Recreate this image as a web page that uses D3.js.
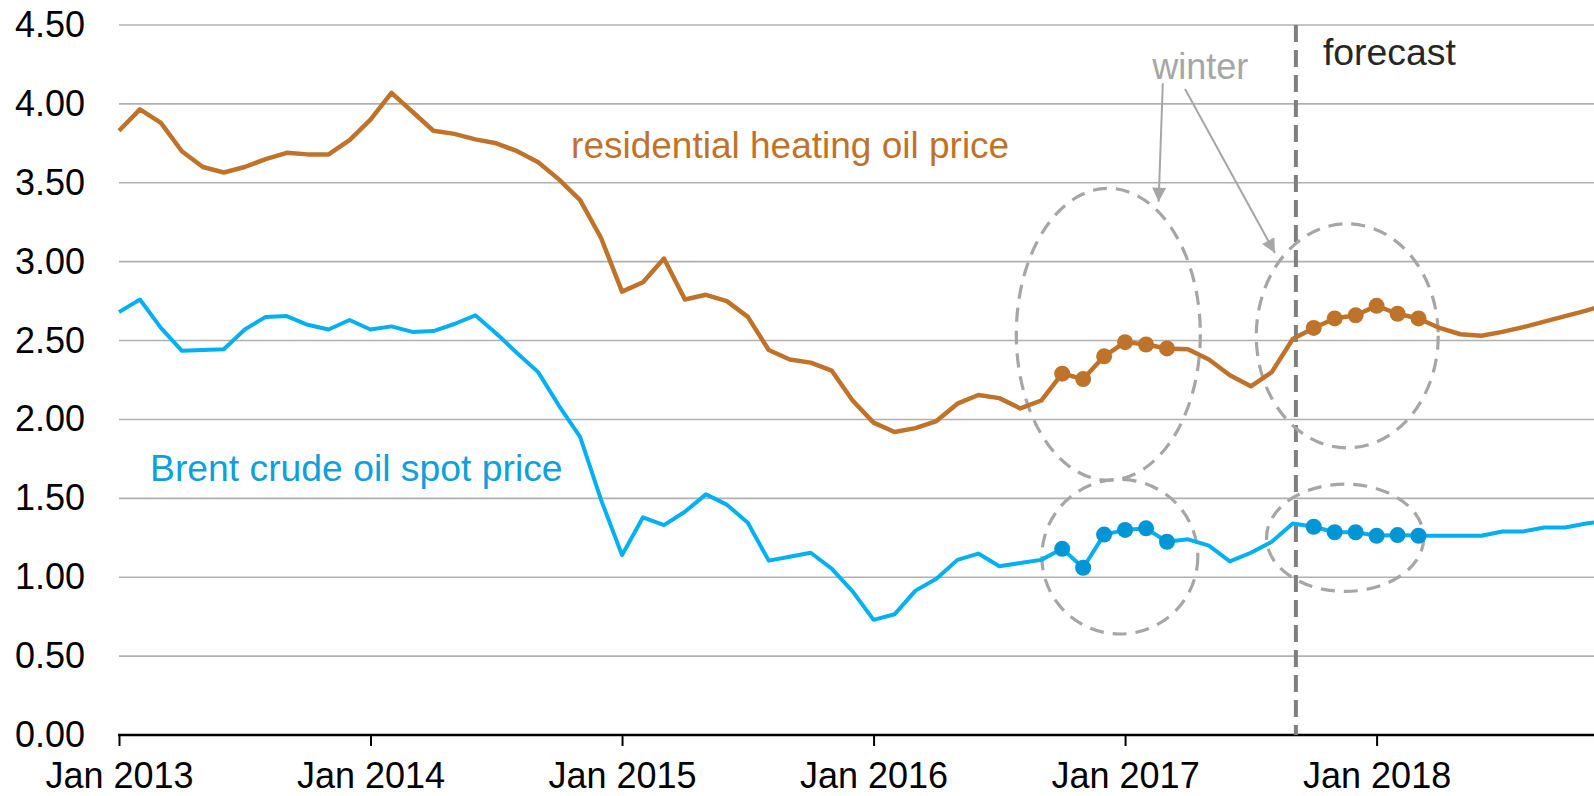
<!DOCTYPE html>
<html>
<head>
<meta charset="utf-8">
<script src="https://cdn.jsdelivr.net/npm/d3@7"></script>
<style>
  body { margin: 0; background: #fff; }
  text { font-family: "Liberation Sans", Arial, sans-serif; }
</style>
</head>
<body>
<script>
const width = 1594;
const height = 796;

// monthly values, Jan 2013 .. Dec 2018 (dollars per gallon)
const heatingOil = [
    3.83, 3.965, 3.88, 3.70, 3.60, 3.565, 3.60, 3.65, 3.69, 3.68, 3.68, 3.77,
    3.90, 4.07, 3.95, 3.83, 3.81, 3.775, 3.75, 3.70, 3.63, 3.52, 3.39, 3.15,
    2.81, 2.87, 3.02, 2.76, 2.79, 2.75, 2.65, 2.44, 2.38, 2.36, 2.31, 2.12,
    1.98, 1.92, 1.945, 1.99, 2.10, 2.155, 2.135, 2.07, 2.12, 2.29, 2.256, 2.40,
    2.49, 2.475, 2.45, 2.445, 2.38, 2.28, 2.21, 2.30, 2.51, 2.58, 2.64, 2.66,
    2.72, 2.67, 2.64, 2.58, 2.54, 2.53, 2.555, 2.585, 2.62, 2.655, 2.69, 2.73
];
const brent = [
    2.68, 2.76, 2.58, 2.435, 2.44, 2.445, 2.57, 2.65, 2.655, 2.60, 2.57, 2.63,
    2.57, 2.59, 2.555, 2.56, 2.605, 2.66, 2.545, 2.42, 2.30, 2.085, 1.89, 1.49,
    1.14, 1.38, 1.33, 1.415, 1.525, 1.46, 1.345, 1.105, 1.13, 1.155, 1.055, 0.91,
    0.73, 0.765, 0.915, 0.99, 1.11, 1.15, 1.07, 1.09, 1.11, 1.18, 1.06, 1.27,
    1.30, 1.31, 1.225, 1.24, 1.20, 1.10, 1.155, 1.225, 1.34, 1.32, 1.285, 1.285,
    1.263, 1.267, 1.263, 1.263, 1.263, 1.263, 1.29, 1.29, 1.315, 1.315, 1.34, 1.36
];
const yearLabels = ["Jan 2013", "Jan 2014", "Jan 2015", "Jan 2016", "Jan 2017", "Jan 2018"];
const yTicks = [0, 0.5, 1, 1.5, 2, 2.5, 3, 3.5, 4, 4.5];
// winter months (Oct-Mar), as month index from Jan 2013
const winterMonths = [45, 46, 47, 48, 49, 50, 57, 58, 59, 60, 61, 62];
const forecastStart = 56.15;

// annotation ellipses in data units: center month, center value, radius months, radius value
const ellipses = [
    { m: 47.2, v: 2.54, rm: 4.39, rv: 0.925 },
    { m: 58.6, v: 2.53, rm: 4.34, rv: 0.71 },
    { m: 47.75, v: 1.13, rm: 3.72, rv: 0.49 },
    { m: 58.5, v: 1.25, rm: 3.75, rv: 0.34 }
];
const arrows = [
    { m1: 49.8, v1: 4.13, m2: 49.6, v2: 3.38 },
    { m1: 50.86, v1: 4.094, m2: 55.15, v2: 3.055 }
];

const left = 119;
const monthW = 20.96;
const x = d3.scaleLinear().domain([0, 71]).range([left, left + 71 * monthW]);
const y = d3.scaleLinear().domain([0, 4.5]).range([735, 25]);

const svg = d3.select('body').append('svg')
    .attr('width', width)
    .attr('height', height);

// grid
svg.append("g")
    .selectAll("line")
    .data(yTicks.filter(d => d > 0))
    .join("line")
    .attr("x1", left)
    .attr("x2", width)
    .attr("y1", d => y(d))
    .attr("y2", d => y(d))
    .attr("stroke", "#b0b0b0")
    .attr("stroke-width", 1.6);

// y axis labels
const yAxis = svg.append("g")
    .attr("transform", `translate(${left},0)`)
    .call(d3.axisLeft(y).tickValues(yTicks).tickFormat(d3.format(".2f")).tickSize(0).tickPadding(34));
yAxis.select(".domain").remove();
yAxis.selectAll("text")
    .attr("font-size", "36px")
    .attr("fill", "#000")
    .style("font-family", '"Liberation Sans", Arial, sans-serif');

// x axis
const xAxis = svg.append("g")
    .attr("transform", `translate(0,${y(0)})`)
    .call(d3.axisBottom(x).tickValues([0, 12, 24, 36, 48, 60]).tickFormat((d, i) => yearLabels[i]).tickSize(11).tickPadding(16));
xAxis.select(".domain").remove();
xAxis.selectAll("line").attr("stroke", "#000").attr("stroke-width", 2);
xAxis.selectAll("text")
    .attr("font-size", "36px")
    .attr("fill", "#000")
    .attr("dy", "0.71em")
    .style("font-family", '"Liberation Sans", Arial, sans-serif');
svg.append("line")
    .attr("x1", left - 1)
    .attr("x2", width)
    .attr("y1", y(0))
    .attr("y2", y(0))
    .attr("stroke", "#000")
    .attr("stroke-width", 2.5);

// forecast divider
svg.append("line")
    .attr("x1", x(forecastStart))
    .attr("x2", x(forecastStart))
    .attr("y1", y(4.5))
    .attr("y2", y(0))
    .attr("stroke", "#7f7f7f")
    .attr("stroke-width", 4)
    .attr("stroke-dasharray", "17,8");

// ellipses
svg.append("g")
    .selectAll("ellipse")
    .data(ellipses)
    .join("ellipse")
    .attr("cx", d => x(d.m))
    .attr("cy", d => y(d.v))
    .attr("rx", d => x(d.rm) - x(0))
    .attr("ry", d => y(0) - y(d.rv))
    .attr("fill", "none")
    .attr("stroke", "#a6a6a6")
    .attr("stroke-width", 3.2)
    .attr("stroke-dasharray", "14,9");

// lines
const line = d3.line()
    .x((d, i) => x(i))
    .y(d => y(d));

svg.append("path")
    .attr("d", line(heatingOil))
    .attr("fill", "none")
    .attr("stroke", "#bf732a")
    .attr("stroke-width", 4.5)
    .attr("stroke-linejoin", "round");

svg.append("path")
    .attr("d", line(brent))
    .attr("fill", "none")
    .attr("stroke", "#00b0f0")
    .attr("stroke-width", 4)
    .attr("stroke-linejoin", "round");

svg.append("g")
    .selectAll("circle")
    .data(winterMonths)
    .join("circle")
    .attr("cx", d => x(d))
    .attr("cy", d => y(heatingOil[d]))
    .attr("r", 8)
    .attr("fill", "#bf732a");

svg.append("g")
    .selectAll("circle")
    .data(winterMonths)
    .join("circle")
    .attr("cx", d => x(d))
    .attr("cy", d => y(brent[d]))
    .attr("r", 8)
    .attr("fill", "#0096d6");

// arrows
svg.append("defs").append("marker")
    .attr("id", "arrow")
    .attr("viewBox", "0 0 10 10")
    .attr("refX", 10)
    .attr("refY", 5)
    .attr("markerUnits", "userSpaceOnUse")
    .attr("markerWidth", 16)
    .attr("markerHeight", 14)
    .attr("orient", "auto")
    .append("path")
    .attr("d", "M0,0L10,5L0,10Z")
    .attr("fill", "#a6a6a6");

svg.append("g")
    .selectAll("line")
    .data(arrows)
    .join("line")
    .attr("x1", d => x(d.m1))
    .attr("y1", d => y(d.v1))
    .attr("x2", d => x(d.m2))
    .attr("y2", d => y(d.v2))
    .attr("stroke", "#a6a6a6")
    .attr("stroke-width", 2)
    .attr("marker-end", "url(#arrow)");

// labels
svg.append("text")
    .attr("x", x(21.57))
    .attr("y", y(3.66))
    .attr("font-size", "37px")
    .attr("fill", "#bf732a")
    .text("residential heating oil price");

svg.append("text")
    .attr("x", x(1.48))
    .attr("y", y(1.61))
    .attr("font-size", "37.3px")
    .attr("fill", "#0f9fd9")
    .text("Brent crude oil spot price");

svg.append("text")
    .attr("x", x(49.3))
    .attr("y", y(4.157))
    .attr("font-size", "36px")
    .attr("fill", "#a6a6a6")
    .text("winter");

svg.append("text")
    .attr("x", x(57.44))
    .attr("y", y(4.246))
    .attr("font-size", "37.4px")
    .attr("fill", "#262626")
    .text("forecast");
</script>
</body>
</html>
